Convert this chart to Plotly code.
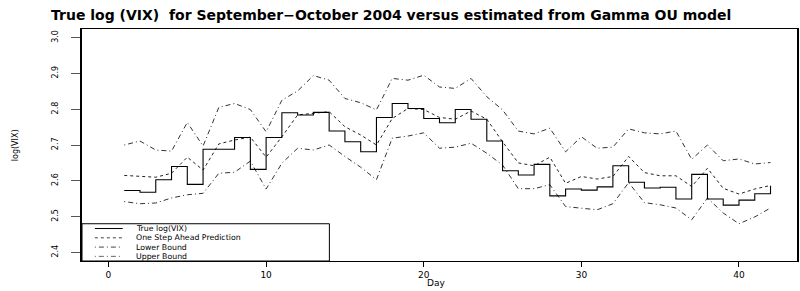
import plotly.graph_objects as go

# ---- data ----
days = list(range(1, 43))
true_vix = [2.573, 2.568, 2.603, 2.640, 2.590, 2.688, 2.688, 2.721, 2.632, 2.721,
            2.790, 2.784, 2.791, 2.739, 2.709, 2.681, 2.777, 2.816, 2.802, 2.774,
            2.762, 2.799, 2.772, 2.711, 2.628, 2.616, 2.646, 2.558, 2.577, 2.574,
            2.583, 2.642, 2.596, 2.580, 2.582, 2.549, 2.618, 2.549, 2.532, 2.546,
            2.564, 2.586]
prediction = [2.615, 2.612, 2.610, 2.621, 2.666, 2.630, 2.703, 2.714, 2.722, 2.666,
              2.723, 2.784, 2.788, 2.793, 2.751, 2.728, 2.700, 2.774, 2.802, 2.799,
              2.777, 2.772, 2.795, 2.772, 2.709, 2.650, 2.642, 2.666, 2.593, 2.612,
              2.605, 2.612, 2.668, 2.623, 2.614, 2.614, 2.584, 2.635, 2.579, 2.563,
              2.577, 2.587]
lower_bound = [2.542, 2.536, 2.538, 2.552, 2.561, 2.565, 2.621, 2.624, 2.655, 2.577,
               2.649, 2.691, 2.686, 2.700, 2.668, 2.638, 2.603, 2.719, 2.725, 2.734,
               2.691, 2.694, 2.705, 2.677, 2.644, 2.578, 2.578, 2.589, 2.528, 2.524,
               2.519, 2.536, 2.595, 2.539, 2.533, 2.524, 2.491, 2.552, 2.510, 2.480,
               2.499, 2.524]
upper_bound = [2.700, 2.711, 2.686, 2.683, 2.763, 2.697, 2.805, 2.816, 2.799, 2.737,
               2.825, 2.851, 2.894, 2.881, 2.830, 2.818, 2.798, 2.886, 2.881, 2.895,
               2.862, 2.858, 2.886, 2.835, 2.798, 2.739, 2.731, 2.747, 2.681, 2.723,
               2.691, 2.694, 2.745, 2.734, 2.731, 2.739, 2.660, 2.700, 2.656, 2.661,
               2.647, 2.651]

x_ticks = [0, 10, 20, 30, 40]
y_ticks = [2.4, 2.5, 2.6, 2.7, 2.8, 2.9, 3.0]
y_tick_labels = ["2.4", "2.5", "2.6", "2.7", "2.8", "2.9", "3.0"]
legend_labels = ["True log(VIX)", "One Step Ahead Prediction", "Lower Bound", "Upper Bound"]

FONT = "DejaVu Sans"
DASH_PRED = "3px,3px"
DASH_BOUND = "1px,3px,5px,3px"

fig = go.Figure()
fig.add_trace(go.Scatter(x=days, y=lower_bound, mode="lines",
                         line=dict(color="#333333", width=1, dash=DASH_BOUND),
                         name=legend_labels[2], showlegend=False))
fig.add_trace(go.Scatter(x=days, y=upper_bound, mode="lines",
                         line=dict(color="#333333", width=1, dash=DASH_BOUND),
                         name=legend_labels[3], showlegend=False))
fig.add_trace(go.Scatter(x=days, y=prediction, mode="lines",
                         line=dict(color="#222222", width=1, dash=DASH_PRED),
                         name=legend_labels[1], showlegend=False))
fig.add_trace(go.Scatter(x=days, y=true_vix, mode="lines", line_shape="hv",
                         line=dict(color="black", width=1.1),
                         name=legend_labels[0], showlegend=False))

# ---- hand-drawn R-style legend in the lower-left corner ----
fig.add_shape(type="rect", xref="paper", yref="paper", x0=0, x1=0.346, y0=0, y1=0.1606,
              line=dict(color="black", width=1), fillcolor="white", layer="above")
row_y = [0.140, 0.100, 0.060, 0.020]
styles = [dict(color="black", width=1, dash="solid"),
          dict(color="#444444", width=1, dash=DASH_PRED),
          dict(color="#444444", width=1, dash=DASH_BOUND),
          dict(color="#666666", width=1, dash=DASH_BOUND)]
for lbl, yy, st in zip(legend_labels, row_y, styles):
    fig.add_shape(type="line", xref="paper", yref="paper", x0=0.018, x1=0.057,
                  y0=yy, y1=yy, line=st, layer="above")
    fig.add_annotation(xref="paper", yref="paper", x=0.0739, y=yy, text=lbl,
                       showarrow=False, xanchor="left", yanchor="middle", borderpad=0,
                       font=dict(family=FONT, size=7.8, color="black"))

# ---- titles ----
fig.add_annotation(xref="paper", yref="paper", x=-0.046, y=1.06,
                   text="<b>True log (VIX)  for September\u2212October 2004 versus estimated from Gamma OU model</b>",
                   showarrow=False, xanchor="left", yanchor="middle",
                   font=dict(family=FONT, size=14, color="black"))
fig.add_annotation(xref="paper", yref="paper", x=0.495, y=-0.094, text="Day",
                   showarrow=False, xanchor="center", yanchor="middle", borderpad=0,
                   font=dict(family=FONT, size=9, color="black"))
fig.add_annotation(xref="paper", yref="paper", x=-0.0934, y=0.5, text="log(VIX)",
                   showarrow=False, xanchor="center", yanchor="middle", textangle=-90,
                   font=dict(family=FONT, size=8, color="black"))

fig.update_layout(
    width=800, height=291,
    margin=dict(l=82, r=1, t=29, b=30),
    paper_bgcolor="white", plot_bgcolor="white",
    showlegend=False,
    font=dict(family=FONT, color="black"),
    xaxis=dict(range=[-1.68, 43.68], tickmode="array", tickvals=x_ticks,
               ticks="outside", ticklen=5, tickcolor="black", tickwidth=1,
               showline=True, linecolor="black", linewidth=1, mirror=True,
               showgrid=False, zeroline=False,
               tickfont=dict(family=FONT, size=9)),
    yaxis=dict(range=[2.376, 3.024], tickmode="array", tickvals=y_ticks,
               ticktext=y_tick_labels, tickangle=-90,
               ticks="outside", ticklen=9, tickcolor="#555555", tickwidth=1,
               showline=True, linecolor="black", linewidth=1.5, mirror=True,
               showgrid=False, zeroline=False, ticklabelstandoff=10,
               tickfont=dict(family=FONT, size=8)),
)

fig.write_html("out.html", config={"displayModeBar": False},
               post_script="document.body.style.margin='0';document.body.style.padding='0';")
